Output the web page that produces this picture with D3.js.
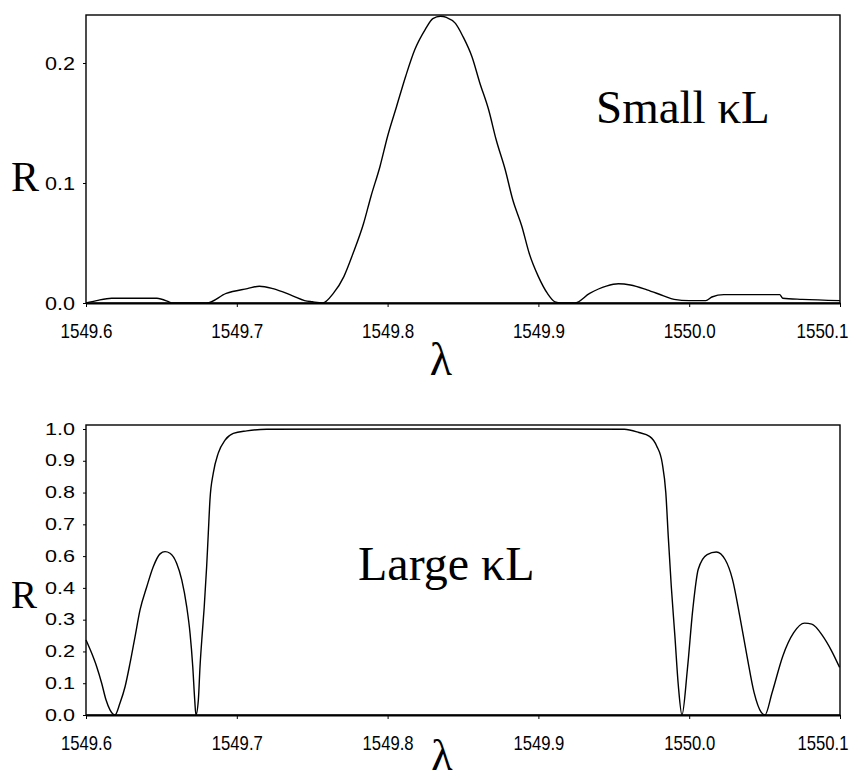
<!DOCTYPE html>
<html><head><meta charset="utf-8">
<script src="https://cdn.jsdelivr.net/npm/d3@7"></script>
<style>
html,body{margin:0;padding:0;background:#fff;}
svg{display:block;}
</style></head>
<body><svg id="fig" width="866" height="779"></svg>
<script>
// Wavelength ticks shared by both panels (nm)
const xTicks = [1549.6, 1549.7, 1549.8, 1549.9, 1550.0, 1550.1];
// Reflectivity ticks: weak grating panel and strong grating panel
const yTicksSmall = [0.0, 0.1, 0.2];
const yTicksLarge = [0.0, 0.1, 0.2, 0.3, 0.4, 0.6, 0.7, 0.8, 0.9, 1.0];

// Weak grating (small kappa*L) reflection spectrum
const smallLambda = [1549.600,1549.607,1549.617,1549.647,1549.655,1549.657,1549.680,1549.693,1549.707,1549.715,
  1549.724,1549.737,1549.745,1549.750,1549.757,1549.764,1549.771,1549.777,1549.784,1549.789,
  1549.795,1549.800,1549.806,1549.812,1549.818,1549.825,1549.830,1549.835,1549.839,1549.845,
  1549.850,1549.856,1549.861,1549.867,1549.872,1549.878,1549.883,1549.889,1549.894,1549.900,
  1549.906,1549.911,1549.915,1549.924,1549.934,1549.945,1549.953,1549.961,1549.972,1549.983,
  1549.990,1550.000,1550.011,1550.015,1550.023,1550.040,1550.060,1550.062,1550.075,1550.100];
const smallR = [0.000,0.002,0.004,0.004,0.001,0.000,0.000,0.008,0.012,0.014,
  0.012,0.006,0.002,0.001,0.000,0.008,0.022,0.041,0.066,0.089,
  0.114,0.139,0.164,0.189,0.211,0.228,0.237,0.239,0.238,0.233,
  0.222,0.205,0.184,0.161,0.136,0.111,0.086,0.064,0.041,0.022,
  0.008,0.001,0.000,0.000,0.008,0.014,0.016,0.015,0.011,0.006,
  0.003,0.002,0.002,0.005,0.007,0.007,0.007,0.004,0.003,0.002];

// Strong grating (large kappa*L) reflection spectrum
const largeLambda = [1549.6000,1549.6038,1549.6071,1549.6104,1549.6133,1549.6159,1549.6192,1549.6225,1549.6259,1549.6292,
  1549.6325,1549.6358,1549.6403,1549.6446,1549.6491,1549.6524,1549.6557,1549.6601,1549.6635,1549.6668,
  1549.6690,1549.6708,1549.6721,1549.6729,1549.6745,1549.6756,1549.6771,1549.6784,1549.6800,1549.6811,
  1549.6822,1549.6844,1549.6877,1549.6922,1549.6977,1549.7066,1549.7198,1549.8000,1549.9000,1549.9570,
  1549.9666,1549.9737,1549.9785,1549.9821,1549.9845,1549.9861,1549.9881,1549.9905,1549.9928,1549.9952,
  1549.9988,1550.0024,1550.0060,1550.0119,1550.0180,1550.0239,1550.0287,1550.0335,1550.0383,1550.0430,
  1550.0478,1550.0502,1550.0550,1550.0621,1550.0693,1550.0765,1550.0813,1550.0885,1550.0944,1550.0997];
const largeR = [0.236,0.194,0.152,0.100,0.047,0.016,0.000,0.037,0.089,0.163,
  0.246,0.330,0.407,0.533,0.607,0.614,0.609,0.555,0.450,0.340,
  0.257,0.152,0.047,0.000,0.047,0.152,0.257,0.340,0.533,0.672,
  0.777,0.861,0.924,0.965,0.986,0.994,0.999,1.000,1.000,0.999,
  0.989,0.977,0.946,0.893,0.799,0.663,0.412,0.249,0.092,0.000,
  0.144,0.333,0.517,0.605,0.613,0.577,0.454,0.312,0.186,0.071,
  0.008,0.000,0.071,0.186,0.259,0.289,0.286,0.249,0.202,0.150];

const svg = d3.select("#fig");
const fmt = d3.format(".1f");

function panel(opts) {
  const { x, y, yTickVals, lambda, R, xLabelLen, yFont, yLabelLen } = opts;
  const g = svg.append("g");
  const [x0, x1] = x.range();
  const yBottom = y(0);
  const yTop = y.range()[y.range().length - 1];

  // frame
  g.append("rect")
    .attr("x", x0).attr("y", yTop)
    .attr("width", x1 - x0).attr("height", yBottom - yTop)
    .attr("fill", "none").attr("stroke", "#000").attr("stroke-width", 1.4);

  // reflectivity curve
  const line = d3.line()
    .x((d, i) => x(lambda[i]))
    .y((d, i) => y(R[i]))
    .curve(d3.curveMonotoneX);
  g.append("path")
    .datum(R)
    .attr("d", line)
    .attr("fill", "none").attr("stroke", "#000").attr("stroke-width", 1.4);

  // bottom axis
  const ax = g.append("g")
    .attr("transform", `translate(0,${yBottom})`)
    .call(d3.axisBottom(x).tickValues(xTicks).tickFormat(fmt).tickSize(4).tickPadding(16).tickSizeOuter(0));
  ax.select(".domain").attr("stroke-width", 2);
  ax.selectAll("text")
    .attr("font-family", "'Liberation Sans', Arial, sans-serif")
    .attr("font-size", 21).attr("fill", "#000")
    .attr("textLength", xLabelLen).attr("lengthAdjust", "spacingAndGlyphs");
  // last label kept inside the page edge
  ax.selectAll(".tick").filter(d => d === xTicks[xTicks.length - 1]).select("text")
    .attr("text-anchor", "end").attr("x", 8);

  // left axis
  const ay = g.append("g")
    .attr("transform", `translate(${x0},0)`)
    .call(d3.axisLeft(y).tickValues(yTickVals).tickFormat(fmt).tickSize(3).tickPadding(8).tickSizeOuter(0));
  ay.select(".domain").remove();
  ay.selectAll("text")
    .attr("font-family", "'Liberation Sans', Arial, sans-serif")
    .attr("font-size", yFont).attr("fill", "#000")
    .attr("textLength", yLabelLen).attr("lengthAdjust", "spacingAndGlyphs");
  return g;
}

const x = d3.scaleLinear().domain([1549.6, 1550.1]).range([86, 840]);

// Top panel: weak grating
const ySmall = d3.scaleLinear().domain([0, 0.24]).range([303, 15]);
panel({ x, y: ySmall, yTickVals: yTicksSmall, lambda: smallLambda, R: smallR,
        xLabelLen: 52, yFont: 19, yLabelLen: 30 });

// Bottom panel: strong grating; tick labels sit at evenly spaced positions
const step = (715 - 429) / (yTicksLarge.length - 1);
const topExtra = 1.0 + (4 / step) * 0.1;   // frame reaches a few pixels above 1.0
const yLarge = d3.scaleLinear()
  .domain([...yTicksLarge, topExtra])
  .range([...yTicksLarge.map((d, i) => 715 - i * step), 425]);
panel({ x, y: yLarge, yTickVals: yTicksLarge, lambda: largeLambda, R: largeR,
        xLabelLen: 51, yFont: 16, yLabelLen: 30 });

// Axis titles and annotations
const serif = "'Liberation Serif', 'Times New Roman', serif";
svg.append("text").attr("x", 11).attr("y", 191).attr("font-family", serif).attr("font-size", 42).text("R");
svg.append("text").attr("x", 11).attr("y", 608).attr("font-family", serif).attr("font-size", 39).text("R");
svg.append("text").attr("x", 441).attr("y", 375).attr("text-anchor", "middle").attr("font-family", serif).attr("font-size", 46).text("λ");
svg.append("text").attr("x", 442).attr("y", 770).attr("text-anchor", "middle").attr("font-family", serif).attr("font-size", 44).text("λ");
svg.append("text").attr("x", 596).attr("y", 123).attr("font-family", serif).attr("font-size", 47).text("Small κL");
svg.append("text").attr("x", 358).attr("y", 580).attr("font-family", serif).attr("font-size", 48).text("Large κL");
</script>
</body></html>
